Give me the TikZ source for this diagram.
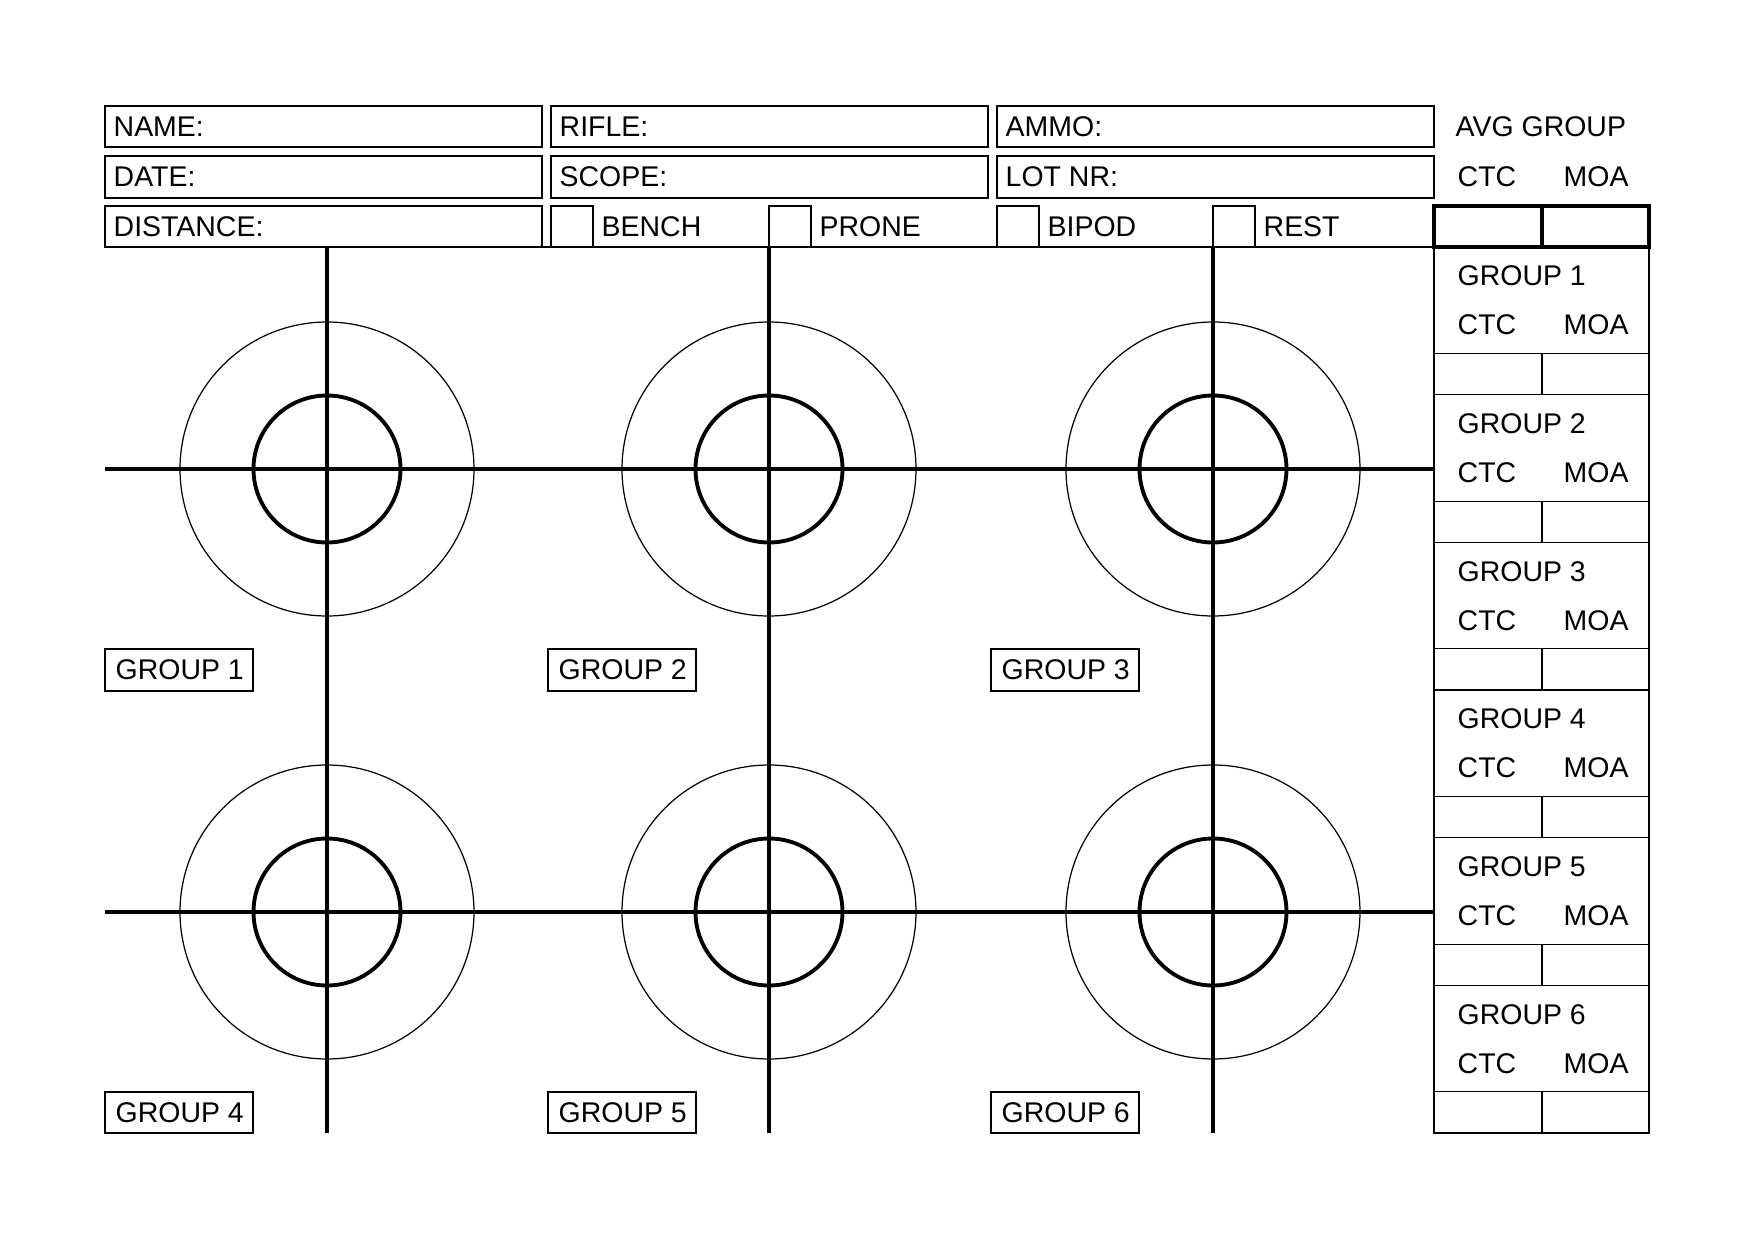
\documentclass[tikz,border=0pt]{standalone}
\usepackage{fontspec}
\setmainfont{Liberation Sans}
\usepackage{tikz}

\begin{document}
\begin{tikzpicture}[x=0.1mm,y=-0.1mm,
	box/.style={draw,line width=0.3pt},
	heavybox/.style={draw,line width=0.9pt},
	lbl/.style={anchor=west,inner sep=0pt,font=\fontsize{8.1}{10}\selectfont},
	cross/.style={line width=0.9pt},
	ring/.style={line width=0.35pt},
	bull/.style={line width=1.1pt}]
			\useasboundingbox (0,0) rectangle (1755,1240);
			% Header boxes
			\foreach \x/\a/\b [count=\i] in {105/NAME:/DATE:,551/RIFLE:/SCOPE:,997/AMMO:/LOT NR:}
			{
				\draw[box] (\x,106) rectangle ++(437,41);
				\draw[box] (\x,156) rectangle ++(437,42);
				\node[lbl] (top\i) at (\x+8,127) {\a};
				\node[lbl] (mid\i) at (\x+8,177) {\b};
			}
			\draw[box] (105,206) rectangle (542,247);
			\node[lbl] (dist) at (113,227) {DISTANCE:};
			\draw[box] (542,247) -- (1434,247);
			\foreach \x/\t in {551/BENCH,769/PRONE,997/BIPOD,1213/REST}
			{
				\draw[box] (\x,206) rectangle ++(42,41);
				\node[lbl] (\t) at (\x+50,227) {\t};
			}
			% Targets
			\foreach \y in {469,912}
			\draw[cross] (105,\y) -- (1434,\y);
			\foreach \x in {327,769,1213}
			{
				\draw[cross] (\x,247) -- (\x,1133);
				\foreach \y in {469,912}
				{
					\draw[ring] (\x,\y) circle (147);
					\draw[bull] (\x,\y) circle (73.5);
				}
			}
			% Group labels
			\foreach \x [count=\i, evaluate=\i as \j using int(\i+3)] in {105,548,991}
			{
				\draw[box] (\x,649) rectangle ++(148,42);
				\node[lbl] (grpa\i) at (\x+10,670) {GROUP \i};
				\draw[box] (\x,1092) rectangle ++(148,41);
				\node[lbl] (grpb\i) at (\x+10,1113) {GROUP \j};
			}
			% Result table
			\node[lbl] (avg) at (1455,127) {AVG GROUP};
			\node[lbl] (avgctc) at (1457,177) {CTC};
			\node[lbl] (avgmoa) at (1563,177) {MOA};
			\draw[heavybox] (1434,206) rectangle (1649,247);
			\draw[heavybox] (1542,206) -- (1542,247);
			\draw[box] (1434,247) rectangle (1649,1133);
			\foreach \i in {1,...,6}
			{
				\pgfmathsetmacro\t{247+(\i-1)*147.67}
				\draw[box] (1434,\t+106.5) -- (1649,\t+106.5);
				\draw[box] (1434,\t+147.67) -- (1649,\t+147.67);
				\draw[box] (1542,\t+106.5) -- (1542,\t+147.67);
				\node[lbl] (res\i) at (1457,\t+29) {GROUP \i};
				\node[lbl] (ctc\i) at (1457,\t+78) {CTC};
				\node[lbl] (moa\i) at (1563,\t+78) {MOA};
			}
		\end{tikzpicture}
\end{document}
